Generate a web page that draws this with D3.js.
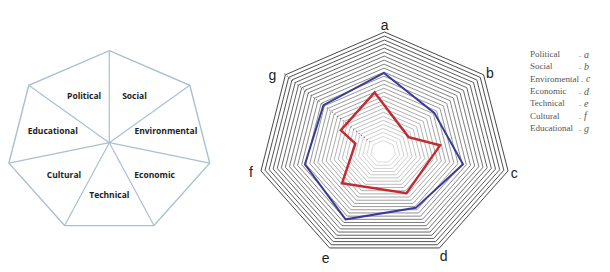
<!doctype html>
<html>
<head>
<meta charset="utf-8">
<style>
  body { margin: 0; background: #fff; }
  .sector { font-family: "Open Sans", sans-serif; font-weight: bold; font-size: 8.5px; fill: #222; }
  .axislabel { font-family: "Liberation Sans", Arial, sans-serif; font-size: 14px; fill: #222; }
  .legend { font-family: "Liberation Serif", "Times New Roman", serif; font-size: 9px; fill: #555; }
</style>
<script src="https://cdn.jsdelivr.net/npm/d3@7"></script>
</head>
<body>
<svg width="610" height="272" id="chart"></svg>
<script>
// data
var axes = ["a", "b", "c", "d", "e", "f", "g"];
var sectorNames = ["Social", "Environmental", "Economic", "Technical", "Cultural", "Educational", "Political"];
var legendNames = ["Political", "Social", "Enviromental", "Economic", "Technical", "Cultural", "Educational"];
var ringCount = 30;
var innerRing = 3;
var blueValues = [19.8, 15.3, 19.2, 17.4, 21.0, 19.2, 18.3];
var redValues = [15.1, 7.0, 13.4, 12.7, 13.3, 6.9, 11.4];
var redShift = [-0.16, 0.14, -0.34, 0.01, 0.43, 0.57, -0.22];   // red vertices sit off the axes

var svg = d3.select("#chart");
var n = axes.length;
var angle = d3.scaleLinear().domain([0, n]).range([0, 2 * Math.PI]);

// ---- left: heptagon diagram ----
var lc = { x: 109.3, y: 142.7, rx: 103, ry: 92 };
var lp = d3.range(n).map(function(i) {
    var t = angle(i);
    return [lc.x + lc.rx * Math.sin(t), lc.y - lc.ry * Math.cos(t)];
});
var left = svg.append("g");
left.append("polygon")
    .attr("points", lp.map(function(p) { return p.join(","); }).join(" "))
    .attr("fill", "none").attr("stroke", "#a9c0d2").attr("stroke-width", 1.4);
left.selectAll(".spoke").data(lp).enter().append("line")
    .attr("x1", lc.x).attr("y1", lc.y)
    .attr("x2", function(d) { return d[0]; }).attr("y2", function(d) { return d[1]; })
    .attr("stroke", "#a9c0d2").attr("stroke-width", 1.2);
left.selectAll(".sector").data(sectorNames).enter().append("text")
    .attr("class", "sector")
    .attr("text-anchor", "middle").attr("dy", "0.35em")
    .attr("x", function(d, i) { return lc.x + 58 * Math.sin(angle(i + 0.5)); })
    .attr("y", function(d, i) { return lc.y - 52 * Math.cos(angle(i + 0.5)); })
    .text(function(d) { return d; });

// ---- right: radar ----
var rX = d3.scaleLinear().domain([0, ringCount]).range([0, 126.7]);
var rY = d3.scaleLinear().domain([0, ringCount]).range([0, 113.6]);
var cX = d3.scaleLinear().domain([0, ringCount]).range([383, 384.5]);
var cY = d3.scaleLinear().domain([0, ringCount]).range([152.5, 145.6]);
var ringColor = d3.scaleLinear().domain([innerRing, 18, ringCount]).range(["#d6d6d6", "#8a8a8a", "#333"]);

function pt(pos, v) {
    var t = angle(pos);
    return [cX(v) + rX(v) * Math.sin(t), cY(v) - rY(v) * Math.cos(t)];
}

var radar = svg.append("g");
var rings = d3.range(innerRing, ringCount + 1);
radar.selectAll(".ring").data(rings).enter().append("polygon")
    .attr("points", function(k) {
        return d3.range(n).map(function(i) { return pt(i, k).join(","); }).join(" ");
    })
    .attr("fill", "none")
    .attr("stroke", function(k) { return ringColor(k); })
    .attr("stroke-width", 0.9);

// dotted g axis
var g0 = pt(6, 4), g1 = pt(6, ringCount + 0.8);
radar.append("line")
    .attr("x1", g0[0]).attr("y1", g0[1]).attr("x2", g1[0]).attr("y2", g1[1])
    .attr("stroke", "#555").attr("stroke-width", 1.2).attr("stroke-dasharray", "0.8,2.6");

var line = d3.line().curve(d3.curveLinearClosed);
radar.append("path")
    .attr("d", line(blueValues.map(function(v, i) { return pt(i, v); })))
    .attr("fill", "none").attr("stroke", "#3b3a9a").attr("stroke-width", 2);
radar.append("path")
    .attr("d", line(redValues.map(function(v, i) { return pt(i + redShift[i], v); })))
    .attr("fill", "none").attr("stroke", "#c42a32").attr("stroke-width", 2.4);

var labelNudge = [[0, 2], [-1, 4], [-3, 1], [0, 1], [0, 3], [-1, 0], [-6, 6]];
radar.selectAll(".axislabel").data(axes).enter().append("text")
    .attr("class", "axislabel")
    .attr("text-anchor", "middle").attr("dy", "0.35em")
    .attr("x", function(d, i) { return pt(i, ringCount + 2.2)[0] + labelNudge[i][0]; })
    .attr("y", function(d, i) { return pt(i, ringCount + 2.2)[1] + labelNudge[i][1]; })
    .text(function(d) { return d; });

// legend
var leg = svg.append("g").attr("transform", "translate(530,54)");
var rowY = d3.scaleLinear().domain([0, n - 1]).range([0, 74]);
var rows = leg.selectAll(".row").data(legendNames).enter().append("g")
    .attr("transform", function(d, i) { return "translate(0," + rowY(i) + ")"; });
rows.append("text").attr("class", "legend name").attr("dy", "0.35em")
    .text(function(d) { return d; });
rows.each(function(d, i) {
    var row = d3.select(this);
    var w = row.select(".name").node().getComputedTextLength();
    var x = Math.max(49, w + 2);
    row.append("text").attr("class", "legend").attr("dy", "0.35em").attr("x", x).text(".");
    row.append("text").attr("class", "legend").attr("dy", "0.35em").attr("x", x + 5)
        .style("font-style", "italic").style("font-size", "10px")
        .text(axes[i]);
});
</script>
</body>
</html>
